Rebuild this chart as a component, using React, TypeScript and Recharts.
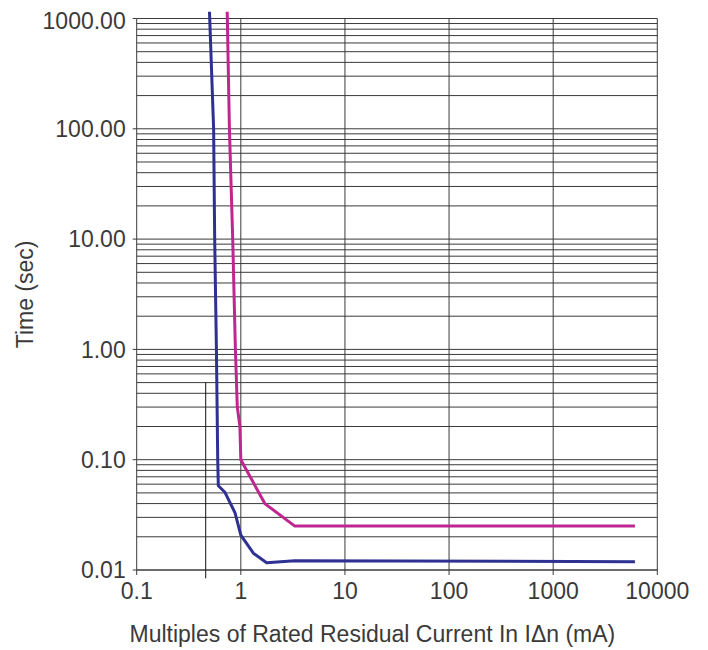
import { LineChart, Line, XAxis, YAxis, ReferenceLine } from 'recharts'

// tripping curves (multiple of IΔn, seconds)
const blueCurve = [
  { x: 0.5, y: 1150 },
  { x: 0.548, y: 100 },
  { x: 0.561, y: 10 },
  { x: 0.583, y: 1 },
  { x: 0.6, y: 0.1 },
  { x: 0.608, y: 0.058 },
  { x: 0.7, y: 0.051 },
  { x: 0.88, y: 0.033 },
  { x: 1, y: 0.0207 },
  { x: 1.32, y: 0.0142 },
  { x: 1.77, y: 0.01165 },
  { x: 3.3, y: 0.0121 },
  { x: 6100, y: 0.0119 },
]

const magentaCurve = [
  { x: 0.74, y: 1150 },
  { x: 0.777, y: 100 },
  { x: 0.836, y: 10 },
  { x: 0.887, y: 1 },
  { x: 0.925, y: 0.3 },
  { x: 0.98, y: 0.2 },
  { x: 1, y: 0.1 },
  { x: 1.7, y: 0.04 },
  { x: 3.3, y: 0.025 },
  { x: 6100, y: 0.025 },
]

const xTicks = [0.1, 1, 10, 100, 1000, 10000]
const yTicks = [0.01, 0.1, 1, 10, 100, 1000]
const markerX = 0.46
const markerTop = 0.5
const markerBottom = 0.0084

// minor log grid: 1..9 in every decade
const gridValues = yTicks.slice(0, -1).flatMap((d) => [1, 2, 3, 4, 5, 6, 7, 8, 9].map((m) => +(d * m).toPrecision(3)))
gridValues.push(yTicks[yTicks.length - 1])

const ink = '#3a3a3a'
const fontSize = 23

export default function App() {
  return (
    <div style={{ width: 700, height: 640, fontFamily: '"Liberation Sans", Arial, sans-serif' }}>
      <LineChart width={700} height={640} margin={{ top: 3.8, right: 50.7, bottom: 0, left: 0 }}>
        {gridValues.map((v) => (
          <ReferenceLine key={'h' + v} y={v} stroke={ink} strokeWidth={1} />
        ))}
        {xTicks.map((v) => (
          <ReferenceLine
            key={'v' + v}
            segment={[
              { x: v, y: yTicks[0] },
              { x: v, y: yTicks[yTicks.length - 1] },
            ]}
            stroke={ink}
            strokeWidth={1}
          />
        ))}
        <ReferenceLine
          segment={[
            { x: markerX, y: markerTop },
            { x: markerX, y: markerBottom },
          ]}
          stroke='#111'
          strokeWidth={1}
          ifOverflow='visible'
        />
        <XAxis
          dataKey='x'
          type='number'
          scale='log'
          domain={[0.1, 10000]}
          ticks={xTicks}
          tickSize={5}
          tickMargin={8}
          height={78}
          stroke={ink}
          tick={{ fill: ink, fontSize }}
          label={{
            value: 'Multiples of Rated Residual Current In IΔn (mA)',
            position: 'insideBottom',
            offset: 6.5,
            dx: -24.6,
            fill: ink,
            fontSize,
          }}
        />
        <YAxis
          dataKey='y'
          type='number'
          scale='log'
          domain={[0.01, 1150]}
          ticks={yTicks}
          tickFormatter={(v: number) => v.toFixed(2)}
          tickSize={4}
          tickMargin={7}
          width={128.7}
          axisLine={false}
          stroke={ink}
          tick={{ fill: ink, fontSize }}
          label={{
            value: 'Time (sec)',
            angle: -90,
            position: 'center',
            dx: -47.3,
            dy: 3.5,
            fill: ink,
            fontSize,
          }}
        />
        <Line
          data={magentaCurve}
          dataKey='y'
          stroke='#c0268f'
          strokeWidth={3}
          strokeLinejoin='round'
          dot={false}
          isAnimationActive={false}
        />
        <Line
          data={blueCurve}
          dataKey='y'
          stroke='#2e3192'
          strokeWidth={3}
          strokeLinejoin='round'
          dot={false}
          isAnimationActive={false}
        />
      </LineChart>
    </div>
  )
}
